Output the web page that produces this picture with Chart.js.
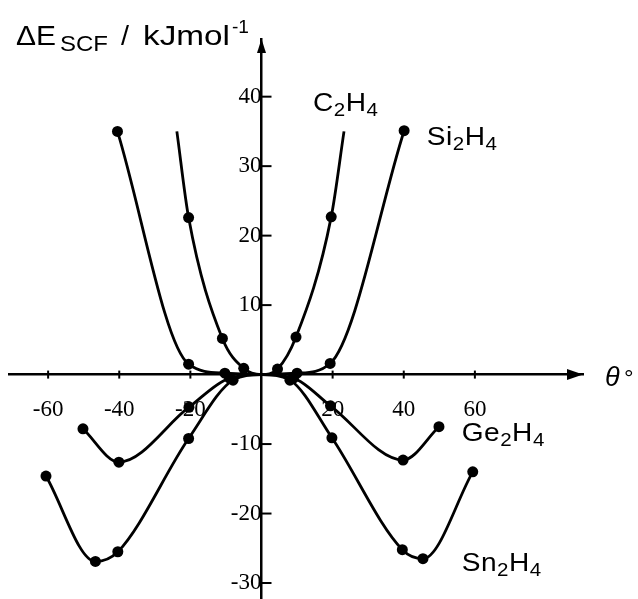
<!DOCTYPE html>
<html><head><meta charset="utf-8">
<script src="https://cdn.jsdelivr.net/npm/chart.js@4.4.1/dist/chart.umd.min.js"></script>
<style>html,body{margin:0;padding:0;background:#fff}#wrap{width:638px;height:599px}</style>
</head><body><div id="wrap"><canvas id="c" width="638" height="599"></canvas></div>
<script>
// ---- data (theta in degrees, Delta E in kJ/mol) ----
const seriesNames = ['C2H4', 'Si2H4', 'Ge2H4', 'Sn2H4'];

const c2h4X = [-23.8, -20.5, -11.0, -5.0, 0, 4.5, 9.7, 19.6, 23.2];
const c2h4Y = [35.0, 22.6, 5.2, 0.9, 0, 0.8, 5.4, 22.7, 35.0];
const c2h4Marked = [false, true, true, true, false, true, true, true, false];

const si2h4X = [-40.5, -20.5, -10.3, 0, 10.0, 19.3, 40.1];
const si2h4Y = [35.0, 1.5, 0.2, 0, 0.2, 1.6, 35.1];
const si2h4Marked = [true, true, true, false, true, true, true];

const ge2h4X = [-50.2, -40.1, -20.4, -9.0, 0, 9.0, 19.4, 39.8, 49.9];
const ge2h4Y = [-7.8, -12.6, -4.7, -0.5, 0, -0.5, -4.5, -12.3, -7.5];
const ge2h4Marked = [true, true, true, true, false, true, true, true, true];

const sn2h4X = [-60.6, -46.7, -40.4, -20.5, -8.0, 0, 8.0, 19.8, 39.6, 45.4, 59.4];
const sn2h4Y = [-14.6, -26.9, -25.5, -9.2, -0.8, 0, -0.8, -9.1, -25.2, -26.5, -14.0];
const sn2h4Marked = [true, true, true, true, true, false, true, true, true, true, true];

const xTickValues = [-60, -40, -20, 20, 40, 60];
const yTickValues = [-30, -20, -10, 10, 20, 30, 40];

// label anchors in data coordinates (left edge, baseline)
const labelAnchorX = [14.5, 46.5, 56.3, 56.3];
const labelAnchorY = [38.0, 33.1, -9.6, -28.3];

// ---- build datasets ----
function mk(xs, ys, marks) {
  return {
    data: xs.map((x, i) => ({x: x, y: ys[i]})),
    showLine: true,
    borderColor: '#000',
    backgroundColor: '#000',
    borderWidth: 2.8,
    pointRadius: marks.map(m => m ? 5.5 : 0),
    pointHoverRadius: marks.map(m => m ? 5.5 : 0),
    pointBackgroundColor: '#000',
    pointBorderWidth: 0,
    cubicInterpolationMode: 'monotone',
    clip: false
  };
}
const datasets = [
  mk(c2h4X, c2h4Y, c2h4Marked),
  mk(si2h4X, si2h4Y, si2h4Marked),
  mk(ge2h4X, ge2h4Y, ge2h4Marked),
  mk(sn2h4X, sn2h4Y, sn2h4Marked)
];

const SANS = '"Liberation Sans", Arial, Helvetica, sans-serif';

function drawFormula(ctx, text, x, y, big, small, off, sx) {
  let cx = x;
  for (const ch of text) {
    const isDigit = /[0-9]/.test(ch);
    ctx.font = (isDigit ? small : big) + 'px ' + SANS;
    const w = ctx.measureText(ch).width;
    ctx.save();
    ctx.translate(cx, isDigit ? y + off : y);
    ctx.scale(sx, 1);
    ctx.fillText(ch, 0, 0);
    ctx.restore();
    cx += w * sx + 0.5;
  }
}
function drawStretched(ctx, text, x, y, font, targetW) {
  ctx.font = font;
  const w = ctx.measureText(text).width;
  ctx.save();
  ctx.translate(x, y);
  ctx.scale(targetW / w, 1);
  ctx.fillText(text, 0, 0);
  ctx.restore();
}

const deco = {
  id: 'deco',
  afterDraw(chart) {
    const ctx = chart.ctx, xs = chart.scales.x, ys = chart.scales.y, ca = chart.chartArea;
    const x0 = xs.getPixelForValue(0), y0 = ys.getPixelForValue(0);
    ctx.save();
    ctx.fillStyle = '#000'; ctx.strokeStyle = '#000';
    ctx.lineWidth = 2;
    xTickValues.forEach(v => {
      const px = xs.getPixelForValue(v);
      ctx.beginPath(); ctx.moveTo(px, y0 - 4); ctx.lineTo(px, y0 + 4); ctx.stroke();
    });
    yTickValues.forEach(v => {
      const py = ys.getPixelForValue(v);
      ctx.beginPath(); ctx.moveTo(x0, py); ctx.lineTo(x0 + 10, py); ctx.stroke();
    });
    // arrowheads
    ctx.beginPath(); ctx.moveTo(ca.right, y0); ctx.lineTo(ca.right - 16, y0 - 5.5); ctx.lineTo(ca.right - 16, y0 + 5.5); ctx.closePath(); ctx.fill();
    ctx.beginPath(); ctx.moveTo(x0, ca.top); ctx.lineTo(x0 - 4.5, ca.top + 14); ctx.lineTo(x0 + 4.5, ca.top + 14); ctx.closePath(); ctx.fill();

    // series labels
    ctx.textAlign = 'left'; ctx.textBaseline = 'alphabetic';
    seriesNames.forEach((n, i) => {
      drawFormula(ctx, n, xs.getPixelForValue(labelAnchorX[i]), ys.getPixelForValue(labelAnchorY[i]), 26, 19, 5, 1.08);
    });

    // y-axis title
    drawStretched(ctx, '\u0394E', 16, 44.5, '28px ' + SANS, 40);
    drawStretched(ctx, 'SCF', 60, 51, '22px ' + SANS, 48);
    drawStretched(ctx, '/', 121, 44.5, '28px ' + SANS, 8);
    drawStretched(ctx, 'kJmol', 143, 44.5, '28px ' + SANS, 87);
    drawStretched(ctx, '-1', 232, 33, '18px ' + SANS, 17);

    // x-axis title
    ctx.font = 'italic 27px ' + SANS;
    ctx.fillText('\u03B8', 605, 386);
    ctx.font = '24px ' + SANS;
    ctx.fillText('\u00B0', 624, 386);
    ctx.restore();
  }
};

const tickFont = {family: '"Liberation Serif", "Times New Roman", serif', size: 23};
function zeroPad(s) { s.paddingTop = 0; s.paddingBottom = 0; s.paddingLeft = 0; s.paddingRight = 0; }

new Chart(document.getElementById('c'), {
  type: 'scatter',
  data: {datasets: datasets},
  plugins: [deco],
  options: {
    responsive: false,
    animation: false,
    events: [],
    layout: {autoPadding: false, padding: {left: 9, right: 55, top: 39, bottom: 0}},
    plugins: {legend: {display: false}, tooltip: {enabled: false}},
    scales: {
      x: {
        type: 'linear', min: -71, max: 90.4,
        position: {y: 0},
        afterBuildTicks: s => { s.ticks = [{value: s.min}].concat(xTickValues.map(v => ({value: v})), [{value: s.max}]); },
        afterFit: zeroPad,
        grid: {display: false, drawTicks: true, tickLength: 22},
        border: {display: true, color: '#000', width: 2.5},
        ticks: {color: '#000', font: tickFont, padding: 0, maxRotation: 0, autoSkip: false,
                callback: v => xTickValues.includes(v) ? String(v) : null}
      },
      y: {
        type: 'linear', min: -32.3, max: 48.3,
        position: {x: 0},
        afterBuildTicks: s => { s.ticks = [{value: s.min}].concat(yTickValues.map(v => ({value: v})), [{value: s.max}]); },
        afterFit: zeroPad,
        grid: {display: false, drawTicks: true, tickLength: 11},
        border: {display: true, color: '#000', width: 2.5},
        ticks: {color: '#000', font: tickFont, padding: 0, autoSkip: false,
                callback: v => yTickValues.includes(v) ? String(v) : null}
      }
    }
  }
});
</script></body></html>
